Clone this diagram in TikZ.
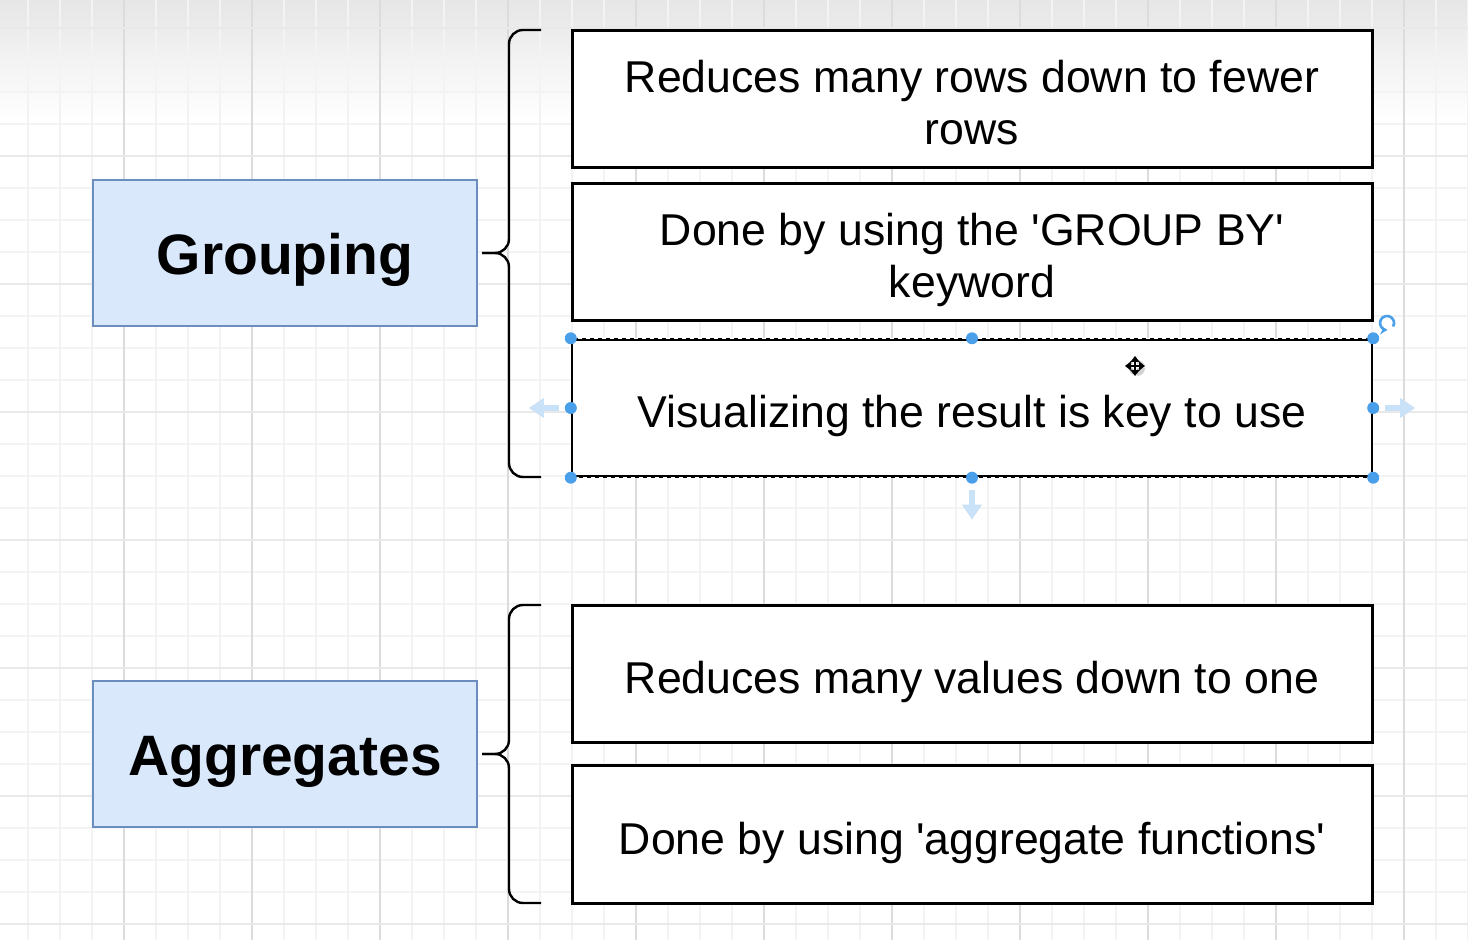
\documentclass[tikz,border=0pt]{standalone}
\usepackage{fontspec}
\setmainfont{Liberation Sans}
\usetikzlibrary{arrows.meta}
\definecolor{headfill}{HTML}{DAE8FC}
\definecolor{headdraw}{HTML}{6C8EBF}
\definecolor{gridminor}{HTML}{F3F3F3}
\definecolor{gridmajor}{HTML}{DCDCDC}
\definecolor{gridmajorh}{HTML}{E9E9E9}
\definecolor{handle}{HTML}{4A9FEB}
\definecolor{ghost}{HTML}{C9E2F7}
\definecolor{topgray}{HTML}{E6E6E6}
\newcommand{\onel}[1]{\raisebox{-10pt}[0pt][0pt]{#1}}
\newcommand{\twol}[2]{\raisebox{-22.5pt}[0pt][0pt]{\begin{tabular}[b]{@{}c@{}}#1\\#2\end{tabular}}}
\newcommand{\headl}[1]{\raisebox{-11pt}[0pt][0pt]{#1}}
\tikzset{
  item/.style={draw=black, line width=1.5pt, fill=white, minimum width=400pt,
    minimum height=68.5pt, align=center, inner sep=0pt,
    font=\fontsize{22.3}{26}\selectfont},
  head/.style={draw=headdraw, fill=headfill, line width=1.2pt, minimum width=192pt,
    minimum height=73pt, inner sep=0pt, font=\fontsize{28.5}{32}\selectfont\bfseries},
  bracepath/.style={draw=black, line width=1.2pt, rounded corners=7pt},
  handledot/.style={circle, fill=handle, inner sep=0pt, minimum size=6pt},
  ghostarrow/.style={draw=ghost, line width=3.2pt, -{Triangle[width=9.5pt,length=7.5pt]}}
}
\begin{document}
\begin{tikzpicture}[x=0.5pt,y=-0.5pt]
\useasboundingbox (0,0) rectangle (1468,940);
\fill[white] (0,0) rectangle (1468,940);
\shade[top color=topgray, bottom color=white] (0,0) rectangle (1468,120);
% grid
\foreach \gx in {28,60,...,1468} {\draw[gridminor, line width=0.6pt] (\gx,0) -- (\gx,940);}
\foreach \gy in {28,60,...,940} {\draw[gridminor, line width=0.6pt] (0,\gy) -- (1468,\gy);}
\foreach \gx in {124,252,...,1468} {\draw[gridmajor, line width=0.6pt] (\gx,0) -- (\gx,940);}
\foreach \gy in {28,156,...,940} {\draw[gridmajorh, line width=0.6pt] (0,\gy) -- (1468,\gy);}

% head nodes
\node[head] (grouping) at (285,253) {\headl{Grouping}};
\node[head] (aggregates) at (285,754) {\headl{Aggregates}};

% items
\node[item] (r1) at (972,99.5) {\twol{Reduces many rows down to fewer}{rows}};
\node[item] (r2) at (972,252.5) {\twol{Done by using the \textquotesingle GROUP BY\textquotesingle}{keyword}};
\node[item, line width=1.2pt] (r3) at (972,408) {\onel{Visualizing the result is key to use}};
\node[item] (r4) at (972,674) {\onel{Reduces many values down to one}};
\node[item] (r5) at (972,834.5) {\onel{Done by using \textquotesingle aggregate functions\textquotesingle}};

% braces
\coordinate (gtip) at ([xshift=2pt]grouping.east);
\coordinate (atip) at ([xshift=2pt]aggregates.east);
\draw[bracepath] (gtip) -- (509,253) -- (509,30) -- (541,30);
\draw[bracepath] (gtip) -- (509,253) -- (509,477) -- (541,477);
\draw[bracepath] (atip) -- (509,754) -- (509,605) -- (541,605);
\draw[bracepath] (atip) -- (509,754) -- (509,903) -- (541,903);

% selection of r3
\draw[white, line width=0.45pt, dash pattern=on 2pt off 2pt] (r3.north west) rectangle (r3.south east);
\coordinate (lghost) at ([xshift=-6pt]r3.west);
\coordinate (rghost) at ([xshift=6pt]r3.east);
\coordinate (dghost) at ([yshift=-6pt]r3.south);
\draw[ghostarrow] (lghost) -- ++(-30,0);
\draw[ghostarrow] (rghost) -- ++(30,0);
\draw[ghostarrow] (dghost) -- ++(0,30);
\foreach \a in {north west,north,north east,west,east,south west,south,south east}
  {\node[handledot] at (r3.\a) {};}
% rotate handle
\draw[handle, line width=1.3pt, -{Stealth[length=3.5pt,width=4.5pt]}] (1393.1,326.5) arc[start angle=30, end angle=-270, radius=7];
% move cursor
\begin{scope}[shift={(1135,366)}]
\fill[gray!35] (2,2) circle[radius=8];
\draw[white, line width=2.4pt] (-10,0) -- (10,0) (0,-10) -- (0,10);
\draw[black, line width=1pt, {Triangle[length=3pt,width=4.5pt]}-{Triangle[length=3pt,width=4.5pt]}] (-10,0) -- (10,0);
\draw[black, line width=1pt, {Triangle[length=3pt,width=4.5pt]}-{Triangle[length=3pt,width=4.5pt]}] (0,-10) -- (0,10);
\end{scope}
\end{tikzpicture}
\end{document}
